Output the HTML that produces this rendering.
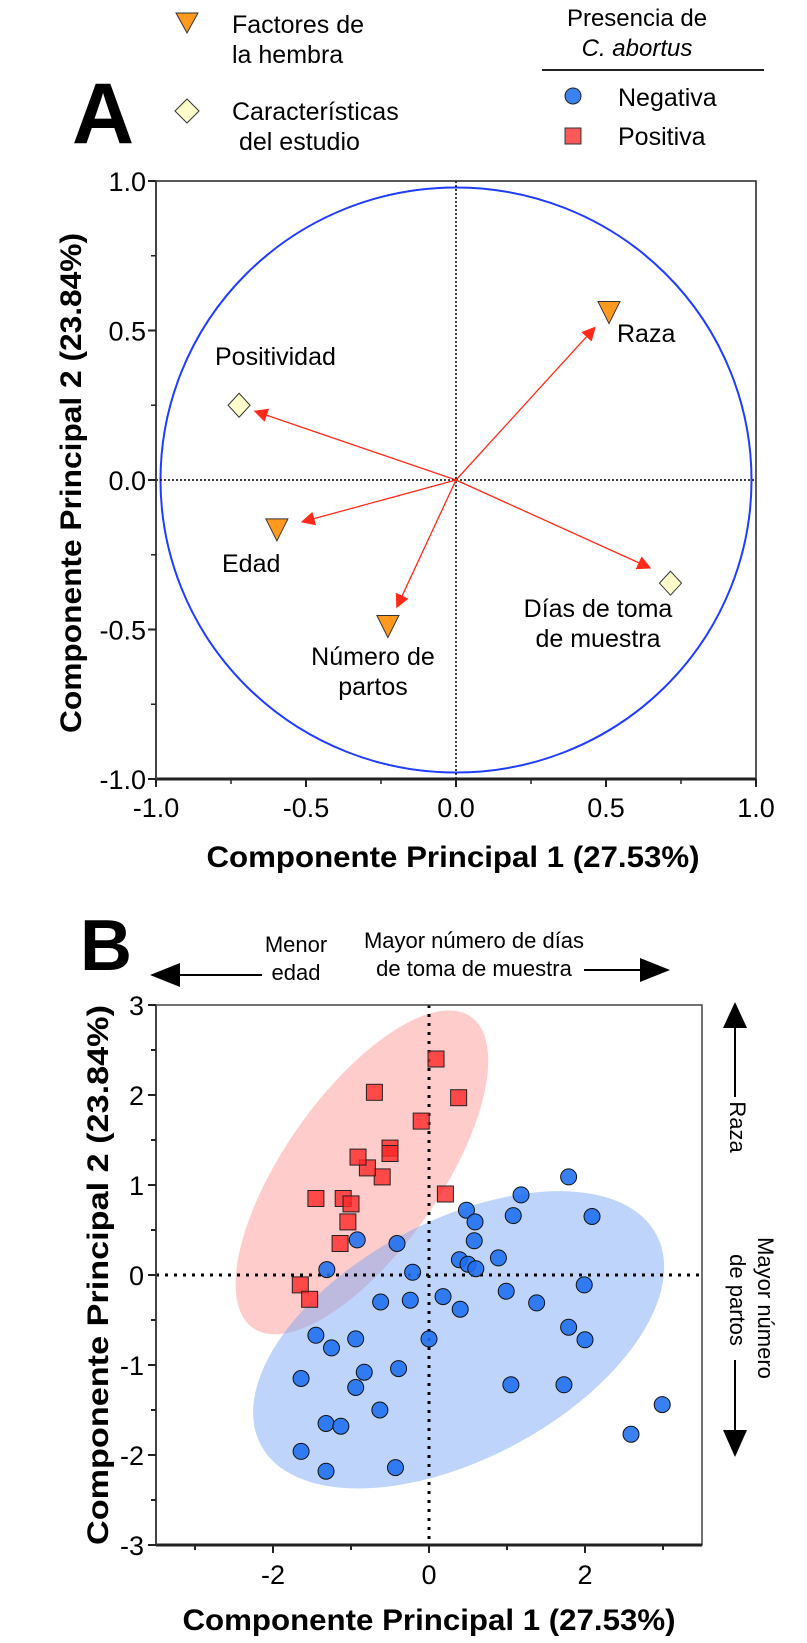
<!DOCTYPE html>
<html><head><meta charset="utf-8">
<style>
html,body{margin:0;padding:0;background:#fff;}
svg{display:block;font-family:"Liberation Sans",Arial,sans-serif;}
</style></head>
<body>
<svg id="fig" width="807" height="1643" viewBox="0 0 807 1643" xmlns="http://www.w3.org/2000/svg">
<defs>
<marker id="ah" viewBox="0 0 10 10" refX="9" refY="5" markerWidth="14" markerHeight="14" markerUnits="userSpaceOnUse" orient="auto"><path d="M0,0 L10,5 L0,10 z" fill="#ff2a1a"/></marker>
</defs>

<g>
<polygon points="176,13 198,13 187,33" fill="#ff9a1f" stroke="#333" stroke-width="1"/>
<text x="232" y="33" font-size="25">Factores de</text>
<text x="232" y="63" font-size="25">la hembra</text>
<polygon points="187,99 199,111 187,123 175,111" fill="#ffffcc" stroke="#333" stroke-width="1"/>
<text x="232" y="120" font-size="25">Características</text>
<text x="239" y="150" font-size="25">del estudio</text>
</g>
<g>
<text x="637" y="26" font-size="24" text-anchor="middle">Presencia de</text>
<text x="637" y="56" font-size="24" font-style="italic" text-anchor="middle">C. abortus</text>
<line x1="542" y1="70" x2="764" y2="70" stroke="#222" stroke-width="2"/>
<circle cx="573" cy="96" r="8" fill="#3b82f0" stroke="#222" stroke-width="1"/>
<text x="618" y="106" font-size="25">Negativa</text>
<rect x="565" y="128" width="16" height="16" fill="#ff5a5a" stroke="#333" stroke-width="1"/>
<text x="618" y="145" font-size="25">Positiva</text>
</g>

<text x="72" y="143" font-size="86" font-weight="bold">A</text>
<text x="80" y="970" font-size="72" font-weight="bold">B</text>

<g id="panelA"></g>
<g id="panelB"></g>

<g>
<line x1="178" y1="975" x2="262" y2="975" stroke="#000" stroke-width="2"/>
<polygon points="150,975 180,963 180,987" fill="#000"/>
<text x="296" y="952" font-size="22" text-anchor="middle">Menor</text>
<text x="296" y="980" font-size="22" text-anchor="middle">edad</text>
<text x="474" y="948" font-size="22" text-anchor="middle">Mayor número de días</text>
<text x="474" y="976" font-size="22" text-anchor="middle">de toma de muestra</text>
<line x1="584" y1="970" x2="642" y2="970" stroke="#000" stroke-width="2"/>
<polygon points="670,970 640,958 640,982" fill="#000"/>
<polygon points="735,1002 723,1028 747,1028" fill="#000"/>
<line x1="735" y1="1026" x2="735" y2="1097" stroke="#000" stroke-width="2"/>
<text transform="translate(730,1127) rotate(90)" font-size="22" text-anchor="middle">Raza</text>
<text transform="translate(758,1308) rotate(90)" font-size="22" text-anchor="middle">Mayor número</text>
<text transform="translate(730,1300) rotate(90)" font-size="22" text-anchor="middle">de partos</text>
<line x1="735" y1="1360" x2="735" y2="1432" stroke="#000" stroke-width="2"/>
<polygon points="735,1457 723,1430 747,1430" fill="#000"/>
</g>
</svg>
<script>
// ---------- Panel A data ----------
const varNames = ["Raza","Positividad","Edad","Número de partos","Días de toma de muestra"];
const varTypes = ["factor","estudio","factor","factor","estudio"];
const loadPC1 = [0.51,-0.723,-0.597,-0.227,0.715];
const loadPC2 = [0.56,0.25,-0.167,-0.49,-0.345];
const arrowTipPC1 = [0.463,-0.67,-0.513,-0.197,0.647];
const arrowTipPC2 = [0.51,0.23,-0.14,-0.425,-0.294];
const aTicks = [-1.0,-0.5,0.0,0.5,1.0];
const aTickLabels = ["-1.0","-0.5","0.0","0.5","1.0"];
const circleRadius = [0.985];

// ---------- Panel B data ----------
const negPC1 = [1.79,1.18,0.48,0.59,1.08,2.09,-0.41,-0.92,0.58,0.89,0.39,0.50,0.60,-1.31,-0.21,1.99,0.99,0.18,1.38,-0.62,-0.24,0.40,1.79,2.0,-1.45,-1.25,-0.94,0.0,-0.83,-0.39,-1.64,-0.94,1.05,1.73,2.99,-0.63,-1.32,-1.13,2.59,-1.64,-1.32,-0.43];
const negPC2 = [1.09,0.89,0.72,0.59,0.66,0.65,0.35,0.39,0.38,0.19,0.17,0.12,0.07,0.06,0.03,-0.11,-0.18,-0.24,-0.31,-0.30,-0.28,-0.38,-0.58,-0.72,-0.67,-0.81,-0.71,-0.71,-1.08,-1.04,-1.15,-1.25,-1.22,-1.22,-1.44,-1.50,-1.65,-1.68,-1.77,-1.96,-2.18,-2.14];
const posPC1 = [0.21,-1.45,-1.10,-1.0,-1.04,-1.14,-1.65,-1.53,-0.60,-0.79,-0.91,0.09,-0.70,0.38,-0.10,-0.50,-0.50];
const posPC2 = [0.90,0.85,0.85,0.79,0.59,0.35,-0.11,-0.27,1.09,1.19,1.31,2.40,2.03,1.97,1.71,1.41,1.35];
const bXTicks = [-3,-2,-1,0,1,2,3];
const bXTickLabels = ["","-2","","0","","2",""];
const bYTicks = [-3,-2.5,-2,-1.5,-1,-0.5,0,0.5,1,1.5,2,2.5,3];
const bYTickLabels = ["-3","","-2","","-1","","0","","1","","2","","3"];
const ellipseCenterPC1 = [-0.86,0.38];
const ellipseCenterPC2 = [1.14,-0.72];

const NS="http://www.w3.org/2000/svg";
function mk(tag,attrs,parent,text){const e=document.createElementNS(NS,tag);for(const k in attrs)e.setAttribute(k,attrs[k]);if(text!==undefined)e.textContent=text;parent.appendChild(e);return e;}

// ===== Panel A =====
const gA=document.getElementById('panelA');
const ax=v=>456+v*300, ay=v=>480-v*299;
let el;
el=mk('ellipse',{cx:ax(0),cy:ay(0),rx:circleRadius[0]*300,ry:circleRadius[0]*297,fill:'none',stroke:'#1f3cff','stroke-width':2},gA);


el=mk('line',{x1:ax(0),y1:ay(1),x2:ax(0),y2:ay(-1),stroke:'#000','stroke-width':1.5,'stroke-dasharray':'2,2'},gA);


el=mk('line',{x1:ax(-1),y1:ay(0),x2:ax(1),y2:ay(0),stroke:'#000','stroke-width':1.5,'stroke-dasharray':'2,2'},gA);


el=mk('rect',{x:ax(-1),y:ay(1),width:ax(1)-ax(-1),height:ay(-1)-ay(1),fill:'none',stroke:'#222','stroke-width':1.5},gA);


el=mk('line',{x1:ax(-1),y1:ay(-1),x2:ax(1),y2:ay(-1),stroke:'#222','stroke-width':3},gA);


el=mk('line',{x1:ax(-1),y1:ay(-1),x2:ax(-1),y2:ay(1),stroke:'#444','stroke-width':2},gA);


for(let i=0;i<aTicks.length;i++){
  const v=aTicks[i];
  el=mk('line',{x1:ax(v),y1:ay(-1),x2:ax(v),y2:ay(-1)+8,stroke:'#222','stroke-width':2},gA);
  
  
  el=mk('text',{x:ax(v),y:817,'font-size':27,'text-anchor':'middle'},gA,aTickLabels[i]);
  
  
  el=mk('line',{x1:ax(-1)-8,y1:ay(v),x2:ax(-1),y2:ay(v),stroke:'#222','stroke-width':2},gA);
  
  
  el=mk('text',{x:146,y:ay(v)+10,'font-size':27,'text-anchor':'end'},gA,aTickLabels[i]);
  
  
  if(i<aTicks.length-1){
    const m=(aTicks[i]+aTicks[i+1])/2;
    el=mk('line',{x1:ax(m),y1:ay(-1),x2:ax(m),y2:ay(-1)+5,stroke:'#222','stroke-width':1.5},gA);
    
    
    el=mk('line',{x1:ax(-1)-5,y1:ay(m),x2:ax(-1),y2:ay(m),stroke:'#222','stroke-width':1.5},gA);
    
    
  }
}
el=mk('text',{x:453,y:867,'font-size':30,'font-weight':'bold','text-anchor':'middle',textLength:493,lengthAdjust:'spacingAndGlyphs'},gA,'Componente Principal 1 (27.53%)');


el=mk('text',{transform:'translate(81,483) rotate(-90)','font-size':30,'font-weight':'bold','text-anchor':'middle',textLength:500,lengthAdjust:'spacingAndGlyphs'},gA,'Componente Principal 2 (23.84%)');



const labelPos=[[617,342,'start'],[215,365,'start'],[222,572,'start'],[373,665,'middle'],[598,617,'middle']];
const labelLines=[["Raza"],["Positividad"],["Edad"],["Número de","partos"],["Días de toma","de muestra"]];
for(let i=0;i<varNames.length;i++){
  el=mk('line',{x1:ax(0),y1:ay(0),x2:ax(arrowTipPC1[i]),y2:ay(arrowTipPC2[i]),stroke:'#ff2a1a','stroke-width':1.3,'marker-end':'url(#ah)'},gA);
  
  
  const cx=ax(loadPC1[i]), cy=ay(loadPC2[i]);
  if(varTypes[i]==='factor'){
    el=mk('polygon',{points:`${cx-11},${cy-11} ${cx+11},${cy-11} ${cx},${cy+11}`,fill:'#ff9a1f',stroke:'#333','stroke-width':1},gA);
  } else {
    el=mk('polygon',{points:`${cx},${cy-12} ${cx+11},${cy} ${cx},${cy+12} ${cx-11},${cy}`,fill:'#ffffcc',stroke:'#333','stroke-width':1},gA);
  }
  
  
  const lp=labelPos[i];
  const lines=labelLines[i];
  for(let j=0;j<lines.length;j++){
    el=mk('text',{x:lp[0],y:lp[1]+j*30,'font-size':25,'text-anchor':lp[2]},gA,lines[j]);
    
    
  }
}

// ===== Panel B =====
const gB=document.getElementById('panelB');
const bx=v=>429+v*78, by=v=>1275-v*90;
function ell(i,a,b,ang,fill){
  const cx=bx(ellipseCenterPC1[i]), cy=by(ellipseCenterPC2[i]);
  return mk('ellipse',{cx:cx,cy:cy,rx:a,ry:b,transform:`rotate(${-ang} ${cx} ${cy})`,fill:fill},gB);
}
el=ell(0,190,78,55,'rgba(255,120,120,0.38)');


el=ell(1,224,119,28,'rgba(120,165,245,0.48)');


el=mk('line',{x1:bx(0),y1:by(3),x2:bx(0),y2:by(-3),stroke:'#000','stroke-width':3,'stroke-dasharray':'3,6'},gB);


el=mk('line',{x1:bx(-3.5),y1:by(0),x2:bx(3.5),y2:by(0),stroke:'#000','stroke-width':3,'stroke-dasharray':'3,6'},gB);


for(let i=0;i<posPC1.length;i++){
  el=mk('rect',{x:bx(posPC1[i])-8,y:by(posPC2[i])-8,width:16,height:16,fill:'rgba(255,40,40,0.8)',stroke:'#222','stroke-width':1},gB);
  
  
}
for(let i=0;i<negPC1.length;i++){
  el=mk('circle',{cx:bx(negPC1[i]),cy:by(negPC2[i]),r:8,fill:'rgba(30,110,240,0.88)',stroke:'#111','stroke-width':1},gB);
  
  
}
el=mk('rect',{x:bx(-3.5),y:by(3),width:bx(3.5)-bx(-3.5),height:by(-3)-by(3),fill:'none',stroke:'#444','stroke-width':1.5},gB);


el=mk('line',{x1:bx(-3.5),y1:by(-3),x2:bx(3.5),y2:by(-3),stroke:'#222','stroke-width':3},gB);


el=mk('line',{x1:bx(-3.5),y1:by(-3),x2:bx(-3.5),y2:by(3),stroke:'#444','stroke-width':2},gB);


for(let i=0;i<bXTicks.length;i++){
  const v=bXTicks[i];
  el=mk('line',{x1:bx(v),y1:by(-3),x2:bx(v),y2:by(-3)+(bXTickLabels[i]?8:5),stroke:'#222','stroke-width':2},gB);
  
  
  if(bXTickLabels[i]){
    el=mk('text',{x:bx(v),y:1584,'font-size':27,'text-anchor':'middle'},gB,bXTickLabels[i]);
    
    
  }
}
for(let i=0;i<bYTicks.length;i++){
  const v=bYTicks[i];
  el=mk('line',{x1:bx(-3.5)-(bYTickLabels[i]?8:5),y1:by(v),x2:bx(-3.5),y2:by(v),stroke:'#222','stroke-width':2},gB);
  
  
  if(bYTickLabels[i]){
    el=mk('text',{x:144,y:by(v)+10,'font-size':27,'text-anchor':'end'},gB,bYTickLabels[i]);
    
    
  }
}
el=mk('text',{x:429,y:1630,'font-size':30,'font-weight':'bold','text-anchor':'middle',textLength:493,lengthAdjust:'spacingAndGlyphs'},gB,'Componente Principal 1 (27.53%)');


el=mk('text',{transform:'translate(108,1275) rotate(-90)','font-size':30,'font-weight':'bold','text-anchor':'middle',textLength:540,lengthAdjust:'spacingAndGlyphs'},gB,'Componente Principal 2 (23.84%)');


</script>
</body></html>
